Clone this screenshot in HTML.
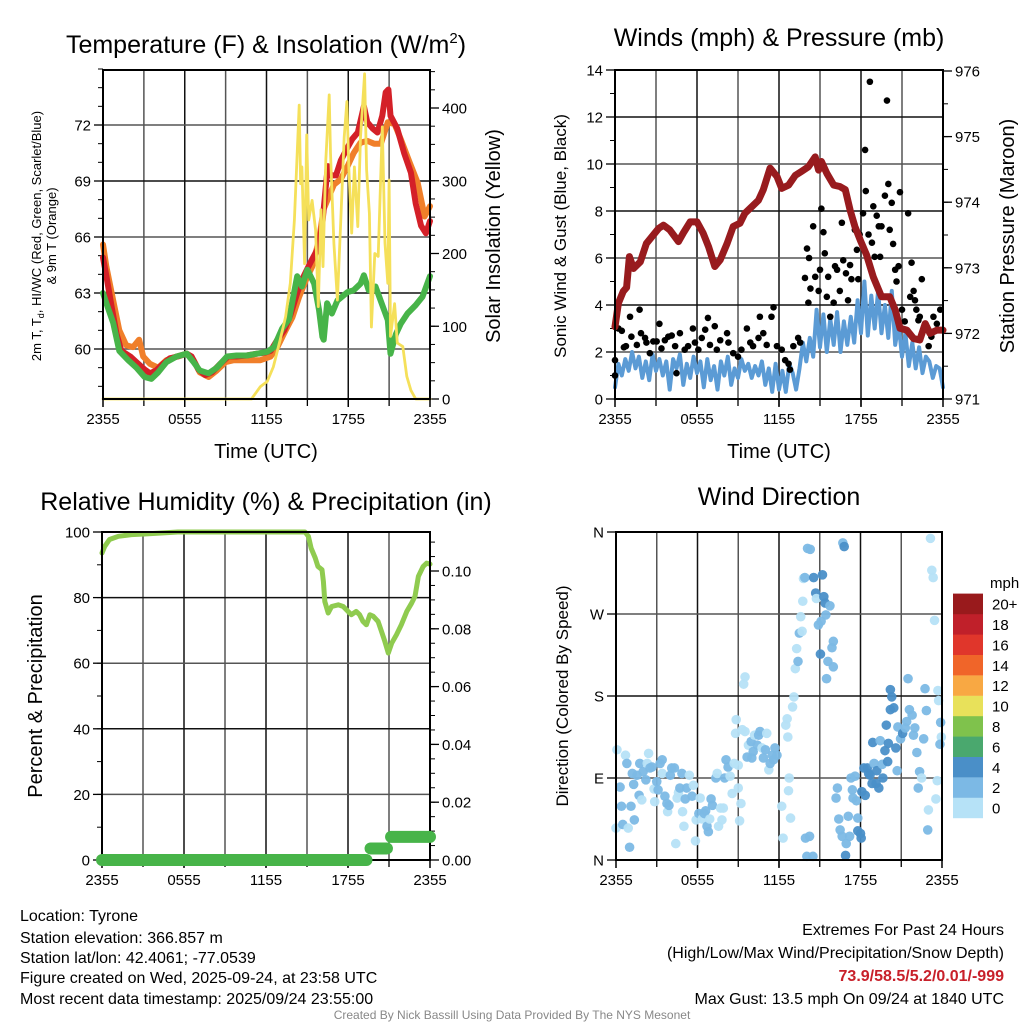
<!DOCTYPE html>
<html><head><meta charset="utf-8"><style>
body{margin:0;background:#fff;}
svg{display:block;font-family:"Liberation Sans",sans-serif;}
</style></head><body>
<svg id="svg" width="1024" height="1024" viewBox="0 0 1024 1024" xmlns="http://www.w3.org/2000/svg">
<rect width="1024" height="1024" fill="#fff"/>
<text x="266" y="53" font-size="25" text-anchor="middle">Temperature (F) &amp; Insolation (W/m<tspan font-size="15" dy="-10">2</tspan><tspan dy="10">)</tspan></text>
<text x="779" y="46" font-size="25" text-anchor="middle">Winds (mph) &amp; Pressure (mb)</text>
<text x="266" y="510" font-size="25" text-anchor="middle">Relative Humidity (%) &amp; Precipitation (in)</text>
<text x="779" y="505" font-size="25" text-anchor="middle">Wind Direction</text>
<text x="266" y="458" font-size="20" text-anchor="middle">Time (UTC)</text>
<text x="779" y="458" font-size="20" text-anchor="middle">Time (UTC)</text>
<text transform="translate(41,236) rotate(-90)" font-size="13" text-anchor="middle">2m T, T<tspan font-size="9" dy="3">d</tspan><tspan dy="-3">, HI/WC (Red, Green, Scarlet/Blue)</tspan></text>
<text transform="translate(56,236) rotate(-90)" font-size="13" text-anchor="middle">&amp; 9m T (Orange)</text>
<text transform="translate(500,236) rotate(-90)" font-size="20" text-anchor="middle">Solar Insolation (Yellow)</text>
<text transform="translate(566,236) rotate(-90)" font-size="17" text-anchor="middle">Sonic Wind &amp; Gust (Blue, Black)</text>
<text transform="translate(1014,236) rotate(-90)" font-size="20" text-anchor="middle">Station Pressure (Maroon)</text>
<text transform="translate(42,696) rotate(-90)" font-size="20" text-anchor="middle">Percent &amp; Precipitation</text>
<text transform="translate(568,696) rotate(-90)" font-size="17" text-anchor="middle">Direction (Colored By Speed)</text>
<g font-size="16">
<text x="20" y="921">Location: Tyrone</text>
<text x="20" y="943">Station elevation: 366.857 m</text>
<text x="20" y="963">Station lat/lon: 42.4061; -77.0539</text>
<text x="20" y="983">Figure created on Wed, 2025-09-24, at 23:58 UTC</text>
<text x="20" y="1004">Most recent data timestamp: 2025/09/24 23:55:00</text>
</g>
<g font-size="16" text-anchor="end">
<text x="1004" y="935">Extremes For Past 24 Hours</text>
<text x="1004" y="958">(High/Low/Max Wind/Precipitation/Snow Depth)</text>
<text x="1004" y="981" fill="#c8202a" font-weight="bold">73.9/58.5/5.2/0.01/-999</text>
<text x="1004" y="1004">Max Gust: 13.5 mph On 09/24 at 1840 UTC</text>
</g>
<text x="512" y="1019" font-size="12" fill="#888" text-anchor="middle">Created By Nick Bassill Using Data Provided By The NYS Mesonet</text>
<g id="layer"></g>
</svg>
<script>
// ---------- DATA ----------
const xTickLabels=["2355","0555","1155","1755","2355"];
const tempTicks=[60,63,66,69,72];
const solarTicks=[0,100,200,300,400];
const windTicks=[0,2,4,6,8,10,12,14];
const presTicks=[971,972,973,974,975,976];
const rhTicks=[0,20,40,60,80,100];
const precipTicks=[0,0.02,0.04,0.06,0.08,0.10];
const dirTicks=[0,90,180,270,360];
const dirTickLabels=["N","E","S","W","N"];

const redH=[0,0.25,0.6,1,1.35,2,2.45,3.05,3.45,3.9,4.4,4.9,5.5,6.15,6.5,7,7.5,8,8.6,9.2,9.8,10.55,11.3,11.9,12.3,12.8,13.3,13.75,14.25,14.6,15,15.35,15.85,16.1,16.35,16.5,16.7,17.1,17.45,17.95,18.3,18.7,19.15,19.4,19.8,20.15,20.5,20.75,20.95,21.1,21.6,22.1,22.6,22.95,23.35,23.7,24];
const redT=[64.9,63.9,62.4,60.8,59.9,59.6,59.3,58.9,58.7,58.85,59.2,59.5,59.6,59.75,59.6,58.9,58.6,58.75,59.2,59.6,59.6,59.65,59.75,59.8,59.9,60.5,61.0,61.8,63.0,63.7,64.3,64.8,65.5,66.75,68.7,69.8,69.3,69.3,70.1,70.8,71.25,71.6,73.0,72.15,71.8,71.6,72.5,73.75,73.9,72.5,71.8,70.5,69.45,67.8,66.6,66.2,66.85];
const orangeH=[0,0.25,0.75,1.2,1.7,2.2,2.65,2.95,3.45,4.05,4.65,5.4,6.15,6.65,7.1,7.75,8.35,9,9.6,10.55,11.55,12.3,12.8,13.4,13.9,14.4,14.9,15.35,15.85,16.2,16.6,16.95,17.45,17.95,18.4,18.9,19.4,19.9,20.4,20.9,21.4,21.85,22.5,23.1,23.6,24];
const orangeT=[65.6,64.4,62.6,61.0,60.2,60.1,60.5,59.6,59.2,59.0,59.4,59.6,59.75,59.4,58.75,58.5,58.85,59.3,59.4,59.4,59.4,59.6,60.1,61.0,61.7,62.8,63.7,64.4,65.85,67.5,68.2,68.8,69.1,69.8,70.5,71.05,71.15,71.0,71.0,72.15,72.05,71.25,70.0,68.9,67.1,67.65];
const greenH=[0,0.25,0.75,1.2,1.85,2.45,3.05,3.55,4.05,4.65,5.4,6.15,6.65,7.1,7.75,8.35,9.1,9.8,10.55,11.3,12.05,12.55,13.15,13.65,14.25,14.6,15,15.5,15.85,16.1,16.2,16.45,16.8,17.2,17.55,17.95,18.4,18.9,19.15,19.5,20,20.5,20.9,21.1,21.5,21.85,22.35,22.95,23.45,24];
const greenT=[63.0,62.45,61.4,59.9,59.4,59.0,58.5,58.4,58.75,59.3,59.6,59.75,59.3,58.85,58.7,59.0,59.6,59.65,59.65,59.75,59.85,60.1,61.1,61.6,63.9,63.35,64.25,63.5,62.1,60.65,60.5,62.45,61.9,62.6,62.8,63.05,63.15,63.5,63.95,63.15,63.35,62.35,61.55,59.75,60.8,61.35,61.9,62.35,62.8,63.9];
const solarH=[0,10.9,11.55,12.05,12.5,13,13.4,13.75,14.05,14.25,14.4,14.5,14.6,14.8,14.95,15.1,15.35,15.6,15.8,16,16.15,16.35,16.6,16.7,16.95,17.2,17.45,17.7,17.9,18.05,18.25,18.45,18.7,18.9,19.2,19.35,19.55,19.7,19.95,20.2,20.5,20.7,20.9,21,21.1,21.4,21.6,22,22.3,22.6,22.95,24];
const solarW=[0,0,17,24,44,81,113,159,246,338,404,296,319,186,363,246,273,232,127,260,182,328,418,338,214,136,246,360,409,315,228,319,237,360,447,315,255,99,200,196,374,214,159,301,86,131,77,72,31,12,0,0];

const presH=[0,0.25,0.6,0.85,1.05,1.35,1.85,2.3,2.8,3.2,3.55,4,4.65,5,5.5,6,6.45,6.85,7.3,7.7,8.2,8.65,9.15,9.5,10,10.5,10.85,11.35,11.85,12.2,12.7,13.2,13.65,14.15,14.65,14.9,15.1,15.5,16,16.45,16.85,17.2,17.55,17.95,18.4,18.9,19.5,20.1,20.5,20.85,21.35,21.85,22.3,22.7,23.05,23.55,24];
const presMb=[972.1,972.46,972.64,972.7,973.17,972.99,973.09,973.37,973.5,973.6,973.65,973.58,973.4,973.53,973.7,973.7,973.53,973.32,973.02,973.12,973.37,973.63,973.68,973.83,973.93,974.03,974.19,974.52,974.39,974.21,974.26,974.41,974.47,974.54,974.69,974.49,974.62,974.44,974.26,974.24,974.19,973.88,973.63,973.42,973.2,972.86,972.56,972.56,972.36,972.08,972.05,971.92,971.9,972.15,972.0,972.05,972.05];
const windSpd=[0.5,1.5,1.0,1.7,1.2,2.0,1.3,1.8,0.9,1.6,0.8,1.9,1.2,1.7,1.0,1.6,0.4,1.7,1.3,1.9,0.6,1.5,0.9,1.8,1.1,1.6,0.5,1.7,0.8,1.4,0.4,1.6,1.0,1.8,0.6,1.3,0.9,1.7,1.2,1.5,0.9,1.4,1.0,1.6,0.6,1.3,0.3,1.5,0.4,1.2,0.3,1.5,1.1,0.4,1.3,2.4,1.6,2.6,1.8,3.8,2.2,3.6,2.0,3.4,2.3,3.7,2.0,3.3,2.3,3.5,2.4,4.2,2.8,5.0,2.7,4.4,3.0,4.6,2.8,4.0,2.6,4.6,2.3,3.2,1.8,2.8,1.4,2.4,1.3,2.2,1.1,1.8,1.6,0.9,1.4,1.3,0.5];
const gustH=[0,0,0.25,0.5,0.65,0.8,1.1,1.2,1.6,1.8,1.9,2.2,2.3,2.55,2.8,3.05,3.25,3.4,3.65,3.9,4.15,4.4,4.5,4.75,5.1,5.35,5.7,5.85,6.1,6.35,6.6,6.8,6.95,7.3,7.45,7.7,8.2,8.3,8.65,9,9.25,9.65,9.9,10.1,10.5,10.6,10.85,11.1,11.45,11.6,11.85,12.2,12.45,12.7,12.8,13.05,13.4,13.55,13.9,14.05,14.15,14.2,14.3,14.5,14.65,14.9,15,15.1,15.25,15.35,15.5,15.6,15.75,16,16.1,16.25,16.45,16.6,16.7,16.9,17.05,17.2,17.3,17.55,17.7,17.8,17.9,18.15,18.3,18.35,18.55,18.65,18.8,18.9,19,19.15,19.3,19.4,19.5,19.75,19.9,20,20.1,20.25,20.35,20.5,20.6,20.75,20.85,21,21.2,21.45,21.6,21.7,21.85,21.95,22.05,22.2,22.3,22.45,22.7,22.95,23.15,23.3,23.55,23.8];
const gustMph=[1.0,1.65,3.0,2.9,2.2,2.25,3.5,2.65,2.3,3.8,2.8,2.6,2.4,1.95,2.45,2.45,3.2,2.15,2.5,2.65,2.7,2.25,1.1,2.8,2.1,2.25,3.0,2.4,2.1,2.6,2.95,3.45,2.3,3.1,2.1,2.5,2.8,2.4,1.95,1.8,2.1,3.0,2.4,2.25,2.6,3.5,2.8,2.3,3.5,3.9,2.25,2.1,1.65,1.5,1.25,2.25,2.6,2.4,5.15,6.4,4.1,6.0,4.7,7.35,5.2,4.6,5.5,8.1,7.1,6.2,4.35,5.2,3.5,4.1,5.65,5.5,4.6,7.5,5.9,5.35,4.2,5.7,5.1,7.2,6.35,5.1,7.0,7.9,10.6,8.85,7.0,13.5,6.65,8.2,6.05,7.8,7.35,6.05,7.35,8.65,12.7,9.15,7.2,8.35,6.6,5.5,5.0,5.65,8.8,3.8,3.3,7.9,4.35,5.8,4.6,4.2,3.8,3.35,3.5,5.1,3.2,2.25,2.65,3.5,3.2,3.8];

const rhH=[0,0.2,0.55,1.2,2.15,3.1,4.35,5.55,14.85,15.1,15.3,15.6,15.8,16.1,16.2,16.3,16.55,16.8,17.3,17.65,18,18.25,18.6,18.85,19.1,19.35,19.6,19.85,20.2,20.45,20.7,20.95,21.2,21.55,21.9,22.3,22.65,22.9,23.15,23.5,23.75,24];
const rhPct=[93.6,95.6,97.7,98.7,99.2,99.4,99.7,100,100,98.7,95.1,92.1,89.5,88.5,84.9,78.8,75.3,77.3,77.8,77.3,75.8,74.8,75.8,74.8,72.7,71.7,74.8,74.3,72.7,69.7,66.6,63.1,66.1,68.7,71.7,75.8,78.3,80.4,86.5,89.5,90.5,90.2];
const precipStart=[0,19.65,21.15];
const precipEnd=[19.35,20.85,24];
const precipIn=[0,0.004,0.008];

const dirH=[0.07,0,0.3,0.4,0.5,0.7,0.8,0.9,1.0,1.1,1.2,1.3,1.35,1.55,1.7,1.75,1.9,2.0,2.2,2.3,2.4,2.5,2.65,2.8,2.85,3.0,3.1,3.25,3.4,3.4,3.6,3.75,3.8,3.9,4.0,4.1,4.3,4.4,4.5,4.6,4.7,4.85,4.9,5.0,5.1,5.2,5.4,5.6,5.7,5.85,5.9,6.1,6.2,6.35,6.5,6.6,6.7,6.8,6.9,7.0,7.1,7.35,7.45,7.55,7.7,7.8,7.9,8.0,8.1,8.25,8.4,8.55,8.7,8.8,8.85,9.0,9.0,9.1,9.2,9.3,9.4,9.5,9.5,9.65,9.75,9.95,10.0,10.1,10.2,10.4,10.5,10.6,10.75,10.85,11.0,11.1,11.25,11.35,11.5,11.6,11.7,11.85,12.2,12.3,12.5,12.6,12.65,12.7,12.75,12.85,13.0,13.1,13.2,13.3,13.4,13.5,13.6,13.7,13.75,13.8,13.9,13.95,14.1,14.25,14.3,14.05,14.5,14.55,14.7,14.75,14.9,15.05,15.1,15.2,15.3,15.4,15.45,15.5,15.6,15.75,15.9,16.0,16.0,16.2,16.3,16.4,16.5,16.65,16.7,16.8,16.9,16.95,17.1,17.2,17.3,17.4,17.45,17.6,17.7,17.8,17.8,18.0,18.05,18.1,18.25,18.35,18.5,18.6,18.7,18.85,18.9,19.0,19.15,19.2,19.35,19.45,19.6,19.65,19.8,19.9,20.0,20.05,20.2,20.2,20.3,20.45,20.6,20.7,20.75,20.95,21.1,21.3,21.4,21.5,21.6,21.8,21.9,22.0,22.15,22.25,22.35,22.5,22.65,22.75,22.85,22.95,23.0,23.15,23.25,23.35,23.45,23.55,23.65,23.7,23.75,23.9,23.95,23.85];
const dirDeg=[121,35,80,59,39,115,106,35,14,59,95,83,44,93,71,106,66,97,88,106,117,101,102,78,64,86,77,106,110,95,70,62,53,60,93,101,101,18,68,74,79,95,53,37,67,79,93,70,82,21,44,51,68,45,51,54,37,31,45,67,60,90,95,37,57,44,57,90,110,102,92,73,106,139,154,104,79,43,62,143,193,201,141,113,126,130,112,119,137,126,137,141,123,112,121,139,99,106,115,110,123,115,59,24,148,155,135,76,90,46,168,179,210,232,218,249,267,251,284,309,310,24,342,26,341,4,4,310,293,287,258,226,262,313,289,282,269,199,218,279,233,240,212,68,79,45,33,26,348,344,5,18,48,26,90,77,68,92,65,46,32,29,24,75,101,71,101,95,93,84,129,106,84,98,79,131,105,90,120,148,108,128,165,187,179,167,123,98,146,133,139,145,152,199,165,159,137,145,118,79,97,90,133,188,164,33,55,353,318,310,263,67,87,186,175,151,135,127];
const dirSpd=[1,1,3,3,3,1,3,1,3,3,3,3,3,3,3,3,1,3,3,1,1,3,3,1,1,3,3,3,3,1,3,3,1,3,3,3,3,1,1,1,3,3,1,1,3,3,1,3,1,1,1,3,1,1,3,3,3,3,1,3,3,3,1,1,1,1,1,3,3,3,1,1,1,1,1,1,1,1,1,1,1,1,1,3,1,3,3,3,1,3,3,3,1,3,3,1,1,3,3,3,3,3,1,1,1,1,1,1,1,1,1,1,1,1,3,3,1,1,1,1,3,3,3,3,3,3,3,5,5,1,3,5,3,5,5,5,3,3,3,3,3,3,3,3,3,3,3,3,3,5,5,3,3,3,3,3,3,3,3,3,5,5,5,5,5,5,5,5,5,5,5,3,5,5,5,3,3,5,5,5,5,5,5,5,5,5,5,3,3,3,5,3,3,3,3,3,3,3,3,3,3,1,3,3,3,3,1,1,1,1,1,1,1,1,1,3,1,3,3,1];

const cbarLabels=["0","2","4","6","8","10","12","14","16","18","20+"];
const cbarColors=["#b6e2f7","#7cb9e5","#4a8fc8","#4aa86e","#7fc24c","#e8e15a","#f8a843","#f06529","#e0362b","#c0202a","#991a1c"];

// ---------- SCALES ----------
const P1={x0:103,x1:430,y0:70,y1:399};
const P2={x0:615,x1:943,y0:70,y1:399};
const P3={x0:102,x1:430,y0:532,y1:860};
const P4={x0:616,x1:942,y0:532,y1:860};
function xs(P,h){return P.x0+h/24*(P.x1-P.x0);}
function yT(v){return 349-(v-60)*56/3;}
function yS(v){return 399-v*0.7275;}
function yW(v){return 399-v*(329/14);}
function yP(v){return 399-(v-971)*65.6;}
function yRH(v){return 860-v*3.28;}
function yPr(v){return 860-v*2890;}
function yD(v){return 860-v*328/360;}
function dirColor(s){return cbarColors[Math.min(10,Math.floor(s/2))];}

const NS="http://www.w3.org/2000/svg";
const layer=document.getElementById('layer');
function el(tag,attrs,parent){const e=document.createElementNS(NS,tag);for(const k in attrs)e.setAttribute(k,attrs[k]);(parent||layer).appendChild(e);return e;}
function txt(x,y,s,size,anchor,parent){const t=el('text',{x:x,y:y,'font-size':size,'text-anchor':anchor},parent);t.textContent=s;return t;}

function grid(P,yvals,yf,name){
  const g=el('g',{});
  
  
  for(let i=1;i<8;i++){const x=P.x0+i*(P.x1-P.x0)/8;
    el('line',{x1:x,y1:P.y0,x2:x,y2:P.y1,stroke:i%2?'#555':'#111','stroke-width':1.5},g);
    el('line',{x1:x,y1:P.y1,x2:x,y2:P.y1+7,stroke:'#000','stroke-width':1.3},g);}
  yvals.forEach((v,i)=>{const y=yf(v);el('line',{x1:P.x0,y1:y,x2:P.x1,y2:y,stroke:i%2?'#111':'#555','stroke-width':1.5},g);});
  return g;
}
function frame(P,name){
  const f=el('rect',{x:P.x0,y:P.y0,width:P.x1-P.x0,height:P.y1-P.y0,fill:'none',stroke:'#000','stroke-width':2});
  
  
  const g=el('g',{});
  
  
  xTickLabels.forEach((s,i)=>{const x=P.x0+i*(P.x1-P.x0)/4;
    el('line',{x1:x,y1:P.y1,x2:x,y2:P.y1+8,stroke:'#000','stroke-width':1.5},g);
    txt(x,P.y1+25,s,15,'middle',g);});
}
function yAxis(P,vals,yf,labels,side,minorStep,minorMin,minorMax,name,fmt){
  const g=el('g',{});
  
  
  const X=side==='left'?P.x0:P.x1, d=side==='left'?-1:1;
  if(minorStep){for(let v=minorMin;v<=minorMax+1e-9;v+=minorStep){const y=yf(v);if(y<P.y0-1||y>P.y1+1)continue;
    el('line',{x1:X,y1:y,x2:X+d*5,y2:y,stroke:'#000','stroke-width':1},g);}}
  vals.forEach((v,i)=>{const y=yf(v);
    el('line',{x1:X,y1:y,x2:X+d*9,y2:y,stroke:'#000','stroke-width':1.3},g);
    txt(X+d*12,y+5.5,labels?labels[i]:(fmt?fmt(v):String(v)),15,side==='left'?'end':'start',g);});
}
function poly(P,hs,vs,yf,color,w,name){
  const pts=hs.map((h,i)=>xs(P,h).toFixed(1)+','+yf(vs[i]).toFixed(1)).join(' ');
  const p=el('polyline',{points:pts,fill:'none',stroke:color,'stroke-width':w,'stroke-linejoin':'round','stroke-linecap':'round'});
  
  
  return p;
}

// ---------- PANEL 1 ----------
grid(P1,tempTicks,yT,'temp');
yAxis(P1,tempTicks,yT,null,'left',1,58,75,'temp-y-axis');
yAxis(P1,solarTicks,yS,null,'right',25,0,450,'solar-y-axis');
poly(P1,orangeH,orangeT,yT,'#f07f2a',6,'temp-9m-line');
poly(P1,redH,redT,yT,'#d42028',6,'temp-2m-line');
poly(P1,greenH,greenT,yT,'#47b449',6,'dewpoint-line');
poly(P1,solarH,solarW,yS,'#f5e05a',2.8,'solar-line');
frame(P1,'temp');

// ---------- PANEL 2 ----------
grid(P2,windTicks.slice(1,7),yW,'wind');
yAxis(P2,windTicks,yW,null,'left',1,0,14,'wind-y-axis');
yAxis(P2,presTicks,yP,null,'right',0.5,971,976,'pressure-y-axis');
const windH=windSpd.map((v,i)=>i*0.25);
poly(P2,windH,windSpd,yW,'#5b9bd5',4,'wind-speed-line');
const gg=el('g',{});


gustH.forEach((h,i)=>{const c=el('circle',{cx:xs(P2,h),cy:yW(gustMph[i]),r:3.3,fill:'#000'},gg);
  
  });
poly(P2,presH,presMb,yP,'#981b1e',7,'pressure-line');
frame(P2,'wind');

// ---------- PANEL 3 ----------
grid(P3,rhTicks.slice(1,5),yRH,'humidity');
yAxis(P3,rhTicks,yRH,null,'left',10,0,100,'humidity-y-axis');
yAxis(P3,precipTicks,yPr,null,'right',0.005,0,0.11,'precip-y-axis',v=>v.toFixed(2));
poly(P3,rhH,rhPct,yRH,'#8fcb4f',5,'humidity-line');
frame(P3,'humidity');
precipIn.forEach((v,i)=>{const l=el('line',{x1:xs(P3,precipStart[i]),y1:yPr(v),x2:xs(P3,precipEnd[i]),y2:yPr(v),stroke:'#47b449','stroke-width':12,'stroke-linecap':'round'});
  
  });

// ---------- PANEL 4 ----------
grid(P4,[90,180,270],yD,'direction');
yAxis(P4,dirTicks,yD,dirTickLabels,'left',0,0,0,'direction-y-axis');
const dg=el('g',{});


dirH.forEach((h,i)=>{const c=el('circle',{cx:xs(P4,h),cy:yD(dirDeg[i]),r:4.8,fill:dirColor(dirSpd[i]),'fill-opacity':0.95},dg);
  
  });
frame(P4,'direction');

// ---------- COLORBAR ----------
const cb=el('g',{});


txt(990,588,'mph',15,'start',cb);
cbarColors.forEach((c,i)=>{const y=818-(i+1)*20.4;
  const r=el('rect',{x:953,y:y,width:30,height:20.6,fill:c},cb);
  
  
  txt(992,y+16,cbarLabels[i],15,'start',cb);});
</script>
</body></html>
